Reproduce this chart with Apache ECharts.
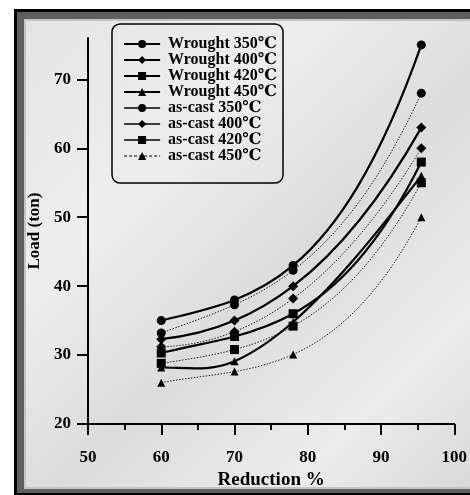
<!DOCTYPE html>
<html>
<head>
<meta charset="utf-8">
<script src="https://cdn.jsdelivr.net/npm/echarts@6/dist/echarts.min.js"></script>
<style>
  html, body { margin: 0; padding: 0; background: #fff; }
  #chart { width: 470px; height: 495px; }
</style>
</head>
<body>
<div id="chart"></div>
<script>
// reduction % (x positions of the measurements)
const reduction = [60, 70, 78, 95.5]

// load (ton) per series
const wrought350 = [35, 38, 43, 75]
const wrought400 = [32.3, 35, 40, 63]
const wrought420 = [30.3, 32.7, 36, 58]
const wrought450 = [28.2, 29.1, 34.8, 56]
const cast350 = [33.2, 37.3, 42.3, 68]
const cast400 = [31.2, 33.4, 38.2, 60]
const cast420 = [28.8, 30.8, 34.2, 55]
const cast450 = [26, 27.6, 30.1, 50]

const xTicks = [50, 60, 70, 80, 90, 100]
const yTicks = [20, 30, 40, 50, 60, 70]

const chart = echarts.init(document.getElementById('chart'))

const font = '"Liberation Serif", "DejaVu Serif", serif'

const wroughtLine = { color: '#000', width: 2.2, type: 'solid', opacity: 1 }
const castLine = { color: '#222', width: 1, type: [2, 2], opacity: 1 }
// legend keys: as-cast keys are thin solid, the last one dashed
const legendLines = [wroughtLine, wroughtLine, wroughtLine, wroughtLine,
  { color: '#000', width: 1.3, type: 'solid', opacity: 1 },
  { color: '#000', width: 1.3, type: 'solid', opacity: 1 },
  { color: '#000', width: 1.3, type: 'solid', opacity: 1 },
  { color: '#000', width: 1, type: [3, 2], opacity: 1 }]

function pairs (ys) {
  return reduction.map((x, i) => [x, ys[i]])
}

// slope of the curve through all points at point k (bezier tangents),
// kept non-negative so the curves do not dip
function slopeAt (ys, k) {
  const xs = reduction
  let d = 0
  for (let j = 0; j < xs.length; j++) {
    let w
    if (j === k) {
      w = 0
      for (let m = 0; m < xs.length; m++) if (m !== k) w += 1 / (xs[k] - xs[m])
    } else {
      let num = 1
      let den = 1
      for (let m = 0; m < xs.length; m++) {
        if (m !== j && m !== k) num *= xs[k] - xs[m]
        if (m !== j) den *= xs[j] - xs[m]
      }
      w = num / den
    }
    d += ys[j] * w
  }
  return Math.max(d, 0)
}

// markers (+ legend entry) drawn as a line series with hidden line
function markSeries (name, ys, symbol) {
  return {
    name: name,
    type: 'line',
    symbol: symbol,
    symbolSize: symbol === 'triangle' ? 8 : (symbol === 'diamond' ? 10 : 9),
    itemStyle: { color: '#000' },
    lineStyle: { opacity: 0 },
    data: pairs(ys),
    z: 4
  }
}

// curve through the points, one bezier piece per interval
function curveSeries (name, ys, wrought) {
  const ls = wrought ? wroughtLine : castLine
  return {
    name: name + ' curve',
    type: 'custom',
    data: pairs(ys),
    encode: { x: 0, y: 1 },
    z: wrought ? 3 : 2,
    renderItem: function (params, api) {
      const k = params.dataIndex
      if (k >= reduction.length - 1) return null
      const x0 = reduction[k]
      const x1 = reduction[k + 1]
      const h = x1 - x0
      const p0 = api.coord([x0, ys[k]])
      const p1 = api.coord([x1, ys[k + 1]])
      const c0 = api.coord([x0 + h / 3, ys[k] + slopeAt(ys, k) * h / 3])
      const c1 = api.coord([x1 - h / 3, ys[k + 1] - slopeAt(ys, k + 1) * h / 3])
      return {
        type: 'bezierCurve',
        shape: { x1: p0[0], y1: p0[1], x2: p1[0], y2: p1[1], cpx1: c0[0], cpy1: c0[1], cpx2: c1[0], cpy2: c1[1] },
        style: {
          fill: null,
          stroke: ls.color,
          lineWidth: ls.width,
          lineDash: wrought ? null : [1.5, 1.5]
        }
      }
    }
  }
}

const names = ['Wrought 350℃', 'Wrought 400℃', 'Wrought 420℃', 'Wrought 450℃',
  'as-cast 350℃', 'as-cast 400℃', 'as-cast 420℃', 'as-cast 450℃']
const values = [wrought350, wrought400, wrought420, wrought450, cast350, cast400, cast420, cast450]
const symbols = ['circle', 'diamond', 'rect', 'triangle', 'circle', 'diamond', 'rect', 'triangle']

const series = []
names.forEach((n, i) => {
  series.push(markSeries(n, values[i], symbols[i]))
  series.push(curveSeries(n, values[i], i < 4))
})

const option = {
  animation: false,
  backgroundColor: '#fff',
  graphic: [
    { type: 'rect', z: -10, shape: { x: 14, y: 9, width: 480, height: 500 }, style: { fill: '#000' } },
    { type: 'rect', z: -9, shape: { x: 17, y: 12, width: 470, height: 481 }, style: { fill: '#5e5e5e' } },
    { type: 'rect', z: -8, shape: { x: 24, y: 19, width: 460, height: 470 }, style: { fill: '#c4c4c4' } },
    {
      type: 'rect', z: -7,
      shape: { x: 26, y: 21, width: 450, height: 466 },
      style: {
        fill: new echarts.graphic.LinearGradient(0, 0, 1, 1, [
          { offset: 0, color: '#e4e4e4' },
          { offset: 0.3, color: '#eeeeee' },
          { offset: 0.55, color: '#dcdcdc' },
          { offset: 0.8, color: '#ececec' },
          { offset: 1, color: '#d8d8d8' }
        ])
      }
    },
    {
      type: 'rect', z: -5,
      shape: { x: 112, y: 24, width: 171, height: 159, r: 8 },
      style: { fill: 'rgba(0,0,0,0)', stroke: '#000', lineWidth: 1.5 }
    }
  ],
  legend: {
    orient: 'vertical',
    left: 123,
    top: 36,
    padding: 0,
    itemWidth: 36,
    itemHeight: 10,
    itemGap: 0,
    textStyle: {
      fontFamily: font, fontWeight: 'bold', fontSize: 16, color: '#000',
      lineHeight: 14, padding: [0, 0, 0, 3]
    },
    data: names.map((n, i) => ({
      name: n,
      lineStyle: legendLines[i]
    }))
  },
  grid: { left: 88, right: 15, top: 38, bottom: 71 },
  xAxis: {
    type: 'value',
    min: xTicks[0],
    max: xTicks[xTicks.length - 1],
    interval: 10,
    name: 'Reduction %',
    nameLocation: 'middle',
    nameGap: 45,
    nameTextStyle: { fontFamily: font, fontWeight: 'bold', fontSize: 19, color: '#000' },
    axisLine: { lineStyle: { color: '#000', width: 2 } },
    axisTick: { inside: false, length: 11, lineStyle: { width: 2, color: '#000' } },
    minorTick: { show: true, splitNumber: 2, length: 6, lineStyle: { width: 2, color: '#000' } },
    axisLabel: { margin: 25, fontFamily: font, fontWeight: 'bold', fontSize: 17, color: '#000' },
    splitLine: { show: false }
  },
  yAxis: {
    type: 'value',
    min: yTicks[0],
    max: 76,
    interval: 10,
    name: 'Load (ton)',
    nameLocation: 'middle',
    nameRotate: 90,
    nameGap: 42,
    nameTextStyle: { fontFamily: font, fontWeight: 'bold', fontSize: 17, color: '#000' },
    axisLine: { show: true, lineStyle: { color: '#000', width: 2 } },
    axisTick: { inside: false, length: 11, lineStyle: { width: 2, color: '#000' } },
    axisLabel: {
      margin: 17, fontFamily: font, fontWeight: 'bold', fontSize: 17, color: '#000',
      showMaxLabel: false
    },
    splitLine: { show: false }
  },
  series: series
}

chart.setOption(option)
</script>
</body>
</html>
